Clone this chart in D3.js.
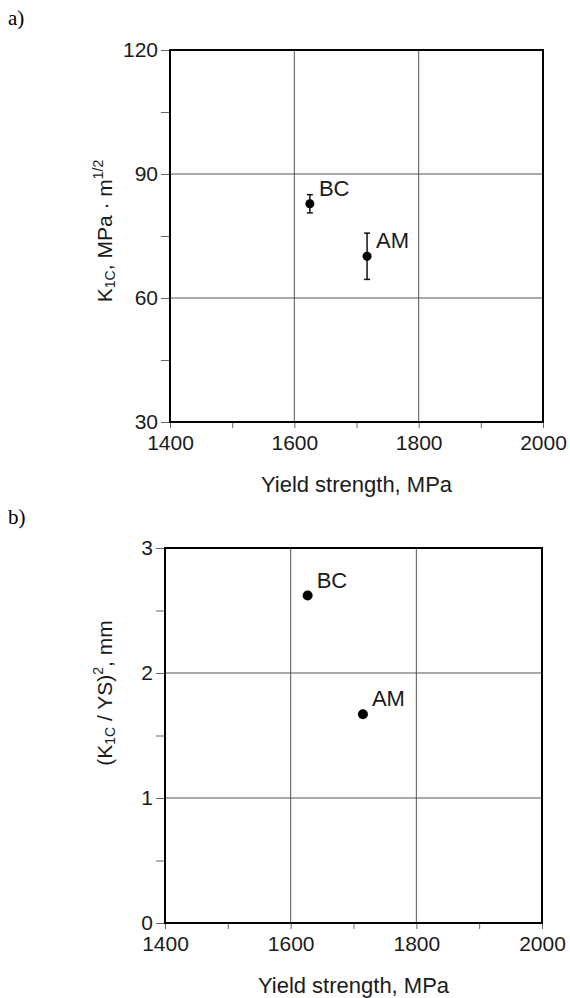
<!DOCTYPE html>
<html>
<head>
<meta charset="utf-8">
<script src="https://cdn.jsdelivr.net/npm/d3@7/dist/d3.min.js"></script>
<style>
  body { margin: 0; background: #fff; }
  svg { display: block; }
  text { font-family: "Liberation Sans", Arial, sans-serif; fill: #1a1a1a; }
  text.panel { font-family: "Liberation Serif", "Times New Roman", serif; font-size: 21px; fill: #000; }
</style>
</head>
<body>
<div id="chart"></div>
<script>
// data
var alloys = ["BC", "AM"];
var yieldStrength = [1625, 1717];      // MPa
var k1c = [82.8, 70.1];                // MPa*m^1/2
var k1cErr = [2.2, 5.6];
var ratioYS = [1627, 1715];            // x for panel b
var ratio = [2.62, 1.67];              // (K1C/YS)^2, mm

var xTicks = [1400, 1600, 1800, 2000];
var xMinor = [1500, 1700, 1900];
var k1cTicks = [30, 60, 90, 120];
var k1cMinor = [45, 75, 105];
var ratioTicks = [0, 1, 2, 3];
var ratioMinor = [0.5, 1.5, 2.5];

var W = 570, H = 998;
var svg = d3.select("#chart").append("svg")
    .attr("width", W).attr("height", H);

function drawPanel(o) {
    var x = d3.scaleLinear().domain([1400, 2000]).range([o.left, o.right]);
    var y = d3.scaleLinear().domain(o.ydomain).range([o.bottom, o.top]);
    var g = svg.append("g");

    // grid
    g.selectAll(".gx").data(xTicks.slice(1, -1)).enter().append("line")
        .attr("x1", d => x(d)).attr("x2", d => x(d))
        .attr("y1", o.top).attr("y2", o.bottom)
        .attr("stroke", "#555").attr("stroke-width", 1);
    g.selectAll(".gy").data(o.yticks.slice(1, -1)).enter().append("line")
        .attr("x1", o.left).attr("x2", o.right)
        .attr("y1", d => y(d)).attr("y2", d => y(d))
        .attr("stroke", "#555").attr("stroke-width", 1);

    // axes
    var xAxis = d3.axisBottom(x).tickValues(xTicks.concat(xMinor))
        .tickSize(6).tickPadding(7)
        .tickFormat(d => xTicks.indexOf(d) >= 0 ? d : "");
    var gx = g.append("g").attr("transform", "translate(0," + o.bottom + ")").call(xAxis);
    var yAxis = d3.axisLeft(y).tickValues(o.yticks.concat(o.yminor))
        .tickSize(9).tickPadding(3)
        .tickFormat(d => o.yticks.indexOf(d) >= 0 ? d : "");
    var gy = g.append("g").attr("transform", "translate(" + o.left + ",0)").call(yAxis);
    [gx, gy].forEach(function(a) {
        a.select(".domain").remove();
        a.selectAll(".tick line").attr("stroke", "#666");
        a.selectAll(".tick text").attr("font-size", 21)
            .attr("font-family", "Liberation Sans, Arial, sans-serif").attr("fill", "#1a1a1a");
    });
    gx.selectAll(".tick text").attr("dy", "0.72em");

    // frame
    g.append("rect")
        .attr("x", o.left).attr("y", o.top)
        .attr("width", o.right - o.left).attr("height", o.bottom - o.top)
        .attr("fill", "none").attr("stroke", "#000").attr("stroke-width", 2);

    // x title
    g.append("text")
        .attr("x", (o.left + o.right) / 2).attr("y", o.bottom + 70)
        .attr("text-anchor", "middle").attr("font-size", 22)
        .text("Yield strength, MPa");

    // y title
    var t = g.append("text")
        .attr("transform", "translate(" + o.ytitleX + "," + o.ytitleY + ") rotate(-90)")
        .attr("text-anchor", "middle").attr("font-size", 21);
    o.ytitle.forEach(function(p) {
        var s = t.append("tspan").text(p.t);
        if (p.sub) s.attr("font-size", 14).attr("dy", 3);
        if (p.sup) s.attr("font-size", 14).attr("dy", p.dy);
        if (p.back) s.attr("dy", p.back);
    });

    // error bars
    if (o.err) {
        o.xs.forEach(function(xv, i) {
            var lo = y(o.ys[i] - o.err[i]), hi = y(o.ys[i] + o.err[i]);
            g.append("line").attr("x1", x(xv)).attr("x2", x(xv))
                .attr("y1", lo).attr("y2", hi).attr("stroke", "#111").attr("stroke-width", 1.5);
            [lo, hi].forEach(function(yy) {
                g.append("line").attr("x1", x(xv) - 3).attr("x2", x(xv) + 3)
                    .attr("y1", yy).attr("y2", yy).attr("stroke", "#111").attr("stroke-width", 1.5);
            });
        });
    }

    // points and labels
    g.selectAll(".pt").data(o.xs).enter().append("circle")
        .attr("cx", d => x(d)).attr("cy", (d, i) => y(o.ys[i]))
        .attr("r", o.r).attr("fill", "#000");
    g.selectAll(".lb").data(alloys).enter().append("text")
        .attr("x", (d, i) => x(o.xs[i]) + 9).attr("y", (d, i) => y(o.ys[i]) - 8)
        .attr("font-size", 22).text(d => d);

    svg.append("text").attr("class", "panel")
        .attr("x", 8).attr("y", o.panelY).text(o.panel);
}

drawPanel({
    panel: "a)", panelY: 25,
    left: 170, right: 543, top: 50, bottom: 422,
    ydomain: [30, 120], yticks: k1cTicks, yminor: k1cMinor,
    xs: yieldStrength, ys: k1c, err: k1cErr, r: 4.5,
    ytitleX: 112, ytitleY: 231,
    ytitle: [{t: "K"}, {t: "1C", sub: true}, {t: ", MPa · m", back: -3}, {t: "1/2", sup: true, dy: -9}]
});

drawPanel({
    panel: "b)", panelY: 524,
    left: 165, right: 542, top: 548, bottom: 923,
    ydomain: [0, 3], yticks: ratioTicks, yminor: ratioMinor,
    xs: ratioYS, ys: ratio, err: null, r: 5,
    ytitleX: 112, ytitleY: 693,
    ytitle: [{t: "(K"}, {t: "1C", sub: true}, {t: " / YS)", back: -3}, {t: "2", sup: true, dy: -9}, {t: ", mm", back: 9}]
});
</script>
</body>
</html>
